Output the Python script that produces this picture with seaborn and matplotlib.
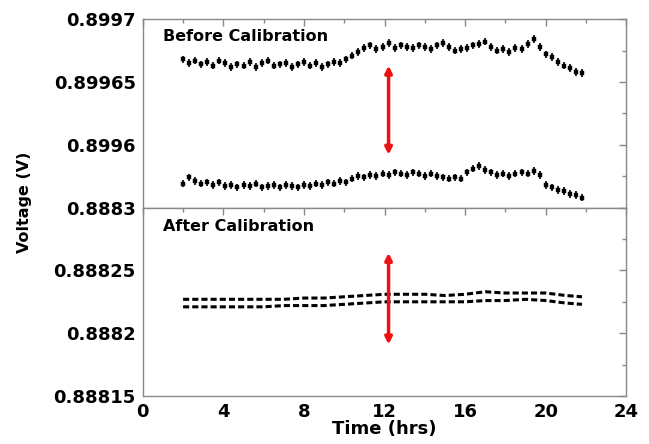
import numpy as np
import pandas as pd
import matplotlib
matplotlib.use("Agg")
import matplotlib.pyplot as plt
from matplotlib.ticker import MultipleLocator, FixedLocator, FixedFormatter
import seaborn as sns

# sample times (hrs) for the "before calibration" traces
t_before = [2.0, 2.3, 2.6, 2.9, 3.2, 3.5, 3.8, 4.1, 4.4, 4.7, 5.0, 5.3, 5.6, 5.9,
            6.2, 6.5, 6.8, 7.1, 7.4, 7.7, 8.0, 8.3, 8.6, 8.9, 9.2, 9.5, 9.8, 10.1,
            10.4, 10.7, 11.0, 11.3, 11.6, 11.9, 12.2, 12.5, 12.8, 13.1, 13.4, 13.7,
            14.0, 14.3, 14.6, 14.9, 15.2, 15.5, 15.8, 16.1, 16.4, 16.7, 17.0, 17.3,
            17.6, 17.9, 18.2, 18.5, 18.8, 19.1, 19.4, 19.7, 20.0, 20.3, 20.6, 20.9,
            21.2, 21.5, 21.8]

before_high = [0.899668, 0.899665, 0.899667, 0.899664, 0.899666, 0.899663, 0.899667,
               0.899665, 0.899662, 0.899664, 0.899663, 0.899666, 0.899662, 0.899665,
               0.899667, 0.899663, 0.899664, 0.899665, 0.899662, 0.899664, 0.899666,
               0.899663, 0.899665, 0.899662, 0.899664, 0.899666, 0.899665, 0.899668,
               0.899671, 0.899674, 0.899677, 0.899679, 0.899676, 0.899678, 0.899681,
               0.899677, 0.899679, 0.899678, 0.899677, 0.899679, 0.899678, 0.899676,
               0.899679, 0.899681, 0.899678, 0.899675, 0.899676, 0.899677, 0.899679,
               0.899680, 0.899682, 0.899678, 0.899675, 0.899676, 0.899674, 0.899677,
               0.899676, 0.899680, 0.899684, 0.899678, 0.899672, 0.899670, 0.899666,
               0.899663, 0.899661, 0.899658, 0.899657]

before_low = [0.899569, 0.899574, 0.899571, 0.899569, 0.899570, 0.899568, 0.899570,
              0.899567, 0.899568, 0.899566, 0.899568, 0.899567, 0.899569, 0.899566,
              0.899567, 0.899568, 0.899566, 0.899568, 0.899567, 0.899566, 0.899568,
              0.899567, 0.899569, 0.899568, 0.899570, 0.899569, 0.899571, 0.899570,
              0.899573, 0.899575, 0.899574, 0.899576, 0.899575, 0.899577, 0.899576,
              0.899578, 0.899577, 0.899576, 0.899578, 0.899577, 0.899575, 0.899577,
              0.899575, 0.899574, 0.899573, 0.899574, 0.899573, 0.899578, 0.899581,
              0.899583, 0.899580, 0.899578, 0.899576, 0.899577, 0.899575, 0.899577,
              0.899578, 0.899577, 0.899579, 0.899576, 0.899568, 0.899566, 0.899564,
              0.899563, 0.899561, 0.899560, 0.899558]

# "after calibration" traces
t_after = [2, 3, 4, 5, 6, 7, 8, 9, 10, 11, 12, 13, 14, 15, 16, 17, 18, 19, 20, 21, 21.8]
after_high = [0.888227, 0.888227, 0.888227, 0.888227, 0.888227, 0.888227, 0.888228,
              0.888228, 0.888229, 0.888230, 0.888231, 0.888231, 0.888231, 0.888230,
              0.888231, 0.888233, 0.888232, 0.888232, 0.888232, 0.888230, 0.888229]
after_low = [0.888221, 0.888221, 0.888221, 0.888221, 0.888221, 0.888222, 0.888222,
             0.888222, 0.888223, 0.888224, 0.888225, 0.888225, 0.888225, 0.888225,
             0.888225, 0.888226, 0.888226, 0.888227, 0.888226, 0.888224, 0.888223]

err_before = 3.0e-6  # small vertical error bars on each point

# red double arrows (x, y_start, y_end)
arrow_top = (12.2, 0.899663, 0.899592)
arrow_bottom = (12.2, 0.888264, 0.888191)

sns.set_theme(style="white")
plt.rcParams['font.family'] = ['DejaVu Sans']
plt.rcParams['font.weight'] = 'bold'
plt.rcParams['text.color'] = 'black'
plt.rcParams['axes.labelcolor'] = 'black'

fig, (ax1, ax2) = plt.subplots(2, 1, figsize=(6.49, 4.44), dpi=100, sharex=True)
fig.subplots_adjust(left=0.22, right=0.965, top=0.957, bottom=0.108, hspace=0)

df_b = pd.DataFrame({"t": t_before * 2,
                     "v": before_high + before_low,
                     "s": ["high"] * len(t_before) + ["low"] * len(t_before)})
ax1.vlines(df_b["t"], df_b["v"] - err_before, df_b["v"] + err_before, color="black", lw=1.2)
sns.scatterplot(data=df_b, x="t", y="v", ax=ax1, color="black", marker="s", s=12,
                edgecolor="black", linewidth=0.3, legend=False)

df_a = pd.DataFrame({"t": t_after * 2,
                     "v": after_high + after_low,
                     "s": ["high"] * len(t_after) + ["low"] * len(t_after)})
for name, grp in df_a.groupby("s"):
    sns.lineplot(data=grp, x="t", y="v", ax=ax2, color="black", lw=2.2,
                 dashes=False, linestyle=(0, (2.0, 1.0)))

for ax, arr in ((ax1, arrow_top), (ax2, arrow_bottom)):
    ax.annotate("", xy=(arr[0], arr[2]), xytext=(arr[0], arr[1]),
                arrowprops=dict(arrowstyle="<|-|>", color="#ee1111", lw=2.5,
                                mutation_scale=10, shrinkA=0, shrinkB=0))

ax1.set_ylim(0.89955, 0.8997)
ax2.set_ylim(0.88815, 0.8883)
ax1.set_xlim(0, 24)

ax1.yaxis.set_major_locator(FixedLocator([0.8996, 0.89965, 0.8997]))
ax1.yaxis.set_major_formatter(FixedFormatter(["0.8996", "0.89965", "0.8997"]))
ax2.yaxis.set_major_locator(FixedLocator([0.88815, 0.8882, 0.88825, 0.8883]))
ax2.yaxis.set_major_formatter(FixedFormatter(["0.88815", "0.8882", "0.88825", "0.8883"]))
ax1.yaxis.set_minor_locator(FixedLocator([0.899575, 0.899625, 0.899675]))
ax2.yaxis.set_minor_locator(FixedLocator([0.888175, 0.888225, 0.888275]))
ax2.xaxis.set_major_locator(MultipleLocator(4))
ax2.xaxis.set_minor_locator(MultipleLocator(2))

for ax in (ax1, ax2):
    ax.set_xlabel("")
    ax.set_ylabel("")
    for sp in ax.spines.values():
        sp.set_color("#888888")
        sp.set_linewidth(1.0)
    ax.tick_params(which="both", direction="in", top=True, right=True, color="#888888",
                   labelsize=13, labelcolor="black")
    ax.tick_params(which="major", length=5, width=1, pad=5)
    ax.tick_params(which="minor", length=3, width=1)
    for lab in ax.get_yticklabels() + ax.get_xticklabels():
        lab.set_fontweight("bold")

ax1.tick_params(axis="x", labelbottom=False)

ax1.text(0.041, 0.905, "Before Calibration", transform=ax1.transAxes, fontsize=11.5,
         fontweight="bold", color="black", va="center", ha="left")
ax2.text(0.041, 0.90, "After Calibration", transform=ax2.transAxes, fontsize=11.5,
         fontweight="bold", color="black", va="center", ha="left")

ax2.set_xlabel("Time (hrs)", fontsize=13, fontweight="bold", color="black", labelpad=-1)
fig.text(0.037, 0.545, "Voltage (V)", rotation=90, fontsize=11.5, fontweight="bold",
         color="black", va="center", ha="center")

fig.savefig("out.png", dpi=100)
